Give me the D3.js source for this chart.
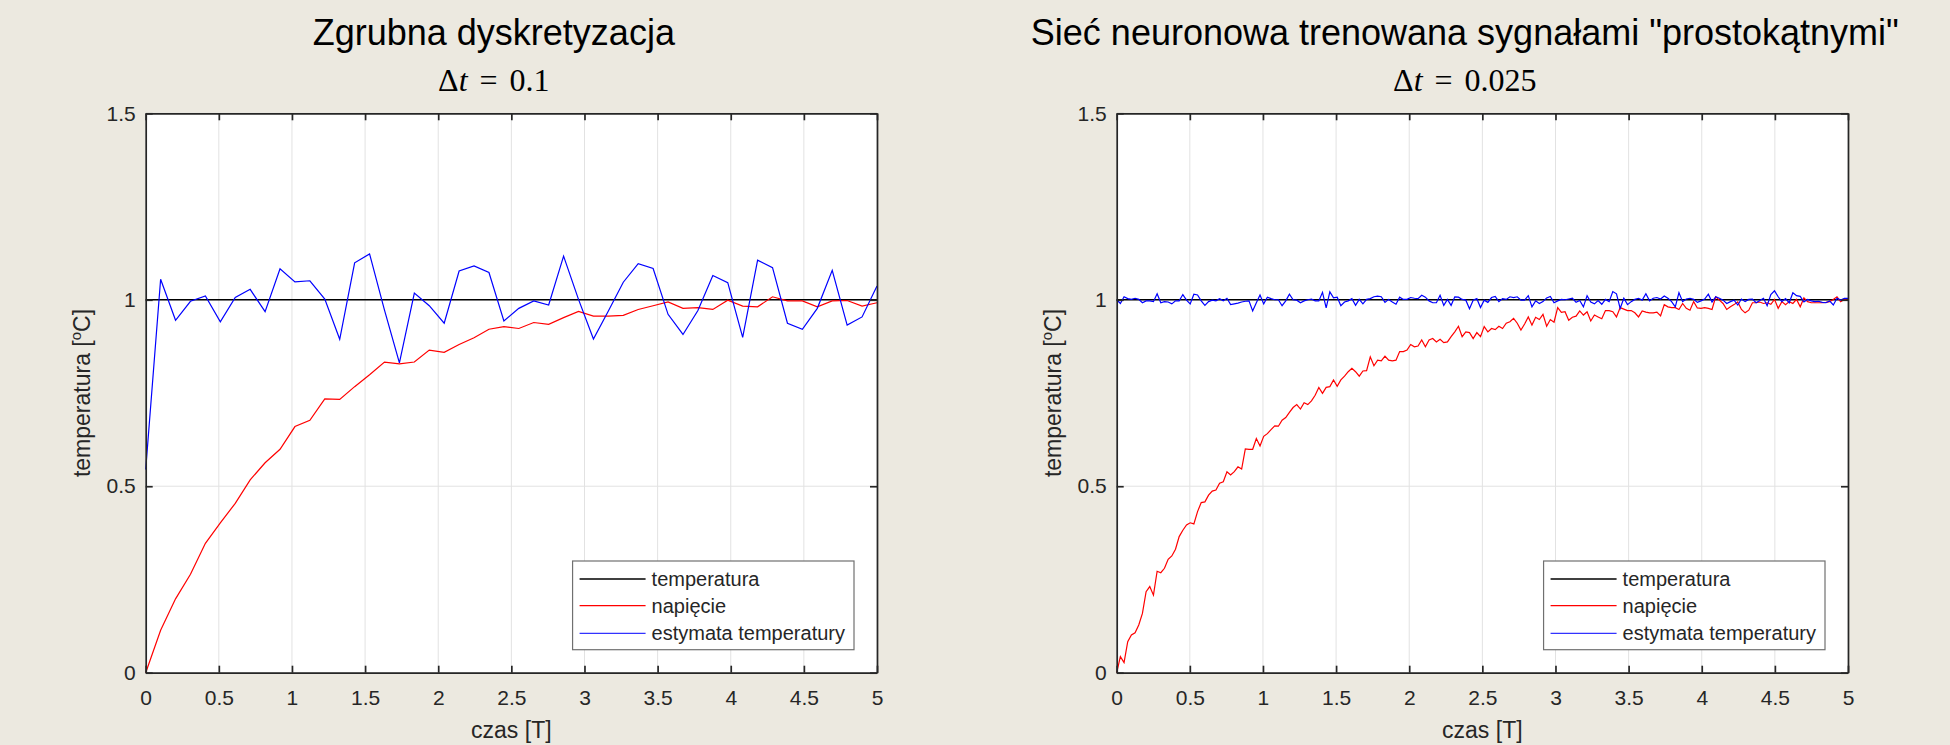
<!DOCTYPE html>
<html>
<head>
<meta charset="utf-8">
<script src="https://cdn.jsdelivr.net/npm/d3@7"></script>
<style>
  body { margin: 0; background: #ECE9E0; }
  svg { display: block; }
</style>
</head>
<body>
<script>
// axis ticks
var timeTicks = [0, 0.5, 1, 1.5, 2, 2.5, 3, 3.5, 4, 4.5, 5];
var tempTicks = [0, 0.5, 1, 1.5];
var legendNames = ["temperatura", "napięcie", "estymata temperatury"];

// temperatura (constant reference)
var temperatureLevel = [1, 1];

// left: coarse sampling (50 samples over 0..5 T)
var coarseVoltage = [0, 0.114, 0.198, 0.264, 0.347, 0.402, 0.454, 0.517, 0.563, 0.599,
  0.660, 0.677, 0.734, 0.733, 0.767, 0.799, 0.833, 0.828, 0.833, 0.865,
  0.859, 0.880, 0.898, 0.921, 0.928, 0.923, 0.939, 0.934, 0.952, 0.969,
  0.956, 0.956, 0.958, 0.974, 0.984, 0.994, 0.977, 0.979, 0.974, 0.999,
  0.983, 0.981, 1.008, 0.997, 0.997, 0.981, 0.997, 0.998, 0.983, 0.992];
var coarseEstimate = [0.545, 1.055, 0.945, 0.996, 1.010, 0.941, 1.006, 1.028, 0.968, 1.083,
  1.048, 1.051, 1.002, 0.894, 1.099, 1.123, 0.972, 0.831, 1.018, 0.984,
  0.937, 1.077, 1.091, 1.073, 0.943, 0.977, 0.997, 0.986, 1.117, 1.001,
  0.895, 0.970, 1.047, 1.097, 1.084, 0.961, 0.907, 0.971, 1.065, 1.046,
  0.899, 1.106, 1.086, 0.937, 0.921, 0.977, 1.079, 0.932, 0.954, 1.037];

// right: fine sampling (200 samples over 0..5 T)
var fineVoltage = [0, 0.043, 0.027, 0.083, 0.101, 0.107, 0.128, 0.159, 0.217, 0.231,
  0.208, 0.272, 0.268, 0.280, 0.304, 0.313, 0.331, 0.365, 0.382, 0.396,
  0.402, 0.399, 0.432, 0.456, 0.458, 0.476, 0.487, 0.490, 0.508, 0.512,
  0.539, 0.530, 0.539, 0.552, 0.546, 0.600, 0.599, 0.599, 0.628, 0.608,
  0.634, 0.641, 0.652, 0.662, 0.661, 0.677, 0.684, 0.698, 0.711, 0.719,
  0.707, 0.724, 0.719, 0.729, 0.744, 0.765, 0.749, 0.765, 0.767, 0.785,
  0.768, 0.785, 0.795, 0.807, 0.816, 0.807, 0.795, 0.809, 0.810, 0.847,
  0.823, 0.838, 0.836, 0.849, 0.838, 0.836, 0.838, 0.861, 0.861, 0.865,
  0.880, 0.874, 0.876, 0.892, 0.874, 0.892, 0.896, 0.887, 0.894, 0.885,
  0.887, 0.901, 0.914, 0.929, 0.901, 0.914, 0.912, 0.896, 0.912, 0.901,
  0.928, 0.914, 0.923, 0.920, 0.929, 0.923, 0.937, 0.941, 0.950, 0.937,
  0.919, 0.935, 0.954, 0.932, 0.953, 0.947, 0.961, 0.929, 0.947, 0.940,
  0.979, 0.966, 0.968, 0.945, 0.953, 0.956, 0.970, 0.959, 0.968, 0.943,
  0.959, 0.954, 0.949, 0.971, 0.971, 0.968, 0.954, 0.979, 0.975, 0.971,
  0.971, 0.965, 0.954, 0.970, 0.967, 0.965, 0.965, 0.967, 0.957, 0.987,
  0.981, 0.979, 0.979, 0.974, 0.990, 0.977, 0.972, 0.995, 0.978, 0.977,
  0.979, 0.977, 0.974, 1.008, 0.999, 0.990, 0.974, 0.981, 0.987, 0.994,
  0.974, 0.965, 0.972, 0.992, 0.992, 0.994, 0.990, 0.992, 0.988, 1.001,
  0.977, 0.995, 0.987, 0.995, 0.990, 1.001, 0.981, 1.005, 0.995, 0.992,
  0.992, 0.992, 0.992, 0.993, 0.995, 1.001, 1.008, 0.995, 1.001, 0.999];
var fineEstimate = [1.000, 0.990, 1.008, 1.003, 1.001, 1.004, 1.001, 0.992, 0.997, 0.997,
  0.995, 1.016, 0.992, 0.995, 0.994, 0.989, 0.997, 0.997, 1.014, 0.999,
  0.989, 1.015, 1.013, 0.997, 0.985, 0.995, 0.999, 0.997, 1.003, 0.997,
  1.004, 0.987, 0.989, 0.991, 0.994, 0.996, 0.997, 0.970, 0.992, 1.013,
  0.989, 1.007, 1.003, 1.000, 1.000, 0.984, 0.997, 1.015, 1.000, 0.999,
  0.992, 0.997, 1.000, 1.002, 0.997, 0.997, 1.020, 0.978, 1.021, 1.005,
  1.007, 0.984, 0.994, 0.997, 1.003, 0.985, 1.001, 0.989, 1.001, 1.003,
  1.008, 1.010, 1.008, 0.993, 1.001, 0.994, 0.988, 1.007, 1.001, 1.001,
  1.006, 1.004, 1.003, 1.012, 1.007, 0.997, 0.992, 0.992, 1.012, 0.985,
  1.001, 0.985, 1.008, 1.007, 1.001, 0.999, 0.976, 0.999, 1.003, 0.979,
  0.999, 0.993, 1.006, 1.009, 0.995, 1.003, 1.001, 1.008, 1.006, 1.008,
  0.999, 0.999, 1.011, 0.981, 0.997, 0.990, 0.995, 1.005, 1.009, 0.992,
  0.997, 1.001, 1.000, 1.002, 1.004, 0.993, 0.998, 0.981, 1.011, 0.994,
  0.989, 0.998, 0.988, 1.001, 0.995, 1.022, 1.016, 0.977, 1.004, 0.987,
  0.995, 1.001, 1.004, 0.999, 1.016, 0.997, 1.004, 1.006, 1.002, 1.010,
  1.004, 0.995, 0.981, 1.019, 0.995, 1.002, 1.004, 1.001, 0.993, 0.997,
  1.002, 1.015, 0.994, 1.008, 1.004, 0.999, 0.990, 0.995, 0.999, 0.986,
  1.002, 0.995, 1.001, 1.002, 0.992, 0.998, 1.004, 0.984, 1.014, 1.024,
  1.008, 0.995, 1.003, 0.992, 1.019, 1.011, 1.009, 0.994, 1.001, 0.997,
  0.995, 0.996, 0.993, 0.992, 0.997, 0.986, 1.004, 0.999, 1.004, 1.004];

var panels = [
  { left: 145.7, right: 877, title: "Zgrubna dyskretyzacja", dt: "0.1",
    voltage: coarseVoltage, estimate: coarseEstimate },
  { left: 1116.7, right: 1848, title: "Sieć neuronowa trenowana sygnałami \"prostokątnymi\"", dt: "0.025",
    voltage: fineVoltage, estimate: fineEstimate }
];

var width = 1950, height = 745;
var plotTop = 113.3, plotBottom = 672.7;
var sans = "'Liberation Sans', Arial, Helvetica, sans-serif";
var serif = "'Liberation Serif', 'Times New Roman', serif";
var ink = "#262626";

var svg = d3.select("body").append("svg")
  .attr("width", width)
  .attr("height", height);

svg.append("rect")
  .attr("width", width)
  .attr("height", height)
  .attr("fill", "#ECE9E0");

panels.forEach(function (p) {
  var g = svg.append("g");
  var x = d3.scaleLinear().domain([0, 5]).range([p.left, p.right]);
  var y = d3.scaleLinear().domain([0, 1.5]).range([plotBottom, plotTop]);
  var cx = (p.left + p.right) / 2;

  g.append("rect")
    .attr("x", p.left).attr("y", plotTop)
    .attr("width", p.right - p.left).attr("height", plotBottom - plotTop)
    .attr("fill", "#fff");

  // grid
  g.selectAll("line.gx").data(timeTicks).join("line")
    .attr("x1", d => x(d)).attr("x2", d => x(d))
    .attr("y1", plotTop).attr("y2", plotBottom)
    .attr("stroke", "#e2e2e2").attr("stroke-width", 1);
  g.selectAll("line.gy").data(tempTicks).join("line")
    .attr("y1", d => y(d)).attr("y2", d => y(d))
    .attr("x1", p.left).attr("x2", p.right)
    .attr("stroke", "#e2e2e2").attr("stroke-width", 1);

  // series
  var n = p.voltage.length;
  var t = d3.scaleLinear().domain([0, n - 1]).range([0, 5]);
  var line = d3.line().x((d, i) => x(t(i))).y(d => y(d));
  var tLine = d3.line().x((d, i) => x(i * 5)).y(d => y(d));

  g.append("path").datum(temperatureLevel)
    .attr("fill", "none").attr("stroke", "#000").attr("stroke-width", 1.3)
    .attr("d", tLine);
  g.append("path").datum(p.voltage)
    .attr("fill", "none").attr("stroke", "#ff0000").attr("stroke-width", 1.2)
    .attr("d", line);
  g.append("path").datum(p.estimate)
    .attr("fill", "none").attr("stroke", "#0000ff").attr("stroke-width", 1.2)
    .attr("d", line);

  // axes (ticks point inward, box on)
  var fmt = d => String(d);
  var axes = [
    g.append("g").attr("transform", `translate(0,${plotBottom})`)
      .call(d3.axisBottom(x).tickValues(timeTicks).tickFormat(fmt).tickSizeInner(-7).tickSizeOuter(0).tickPadding(17)),
    g.append("g").attr("transform", `translate(0,${plotTop})`)
      .call(d3.axisTop(x).tickValues(timeTicks).tickFormat("").tickSizeInner(-7).tickSizeOuter(0)),
    g.append("g").attr("transform", `translate(${p.left},0)`)
      .call(d3.axisLeft(y).tickValues(tempTicks).tickFormat(fmt).tickSizeInner(-7).tickSizeOuter(0).tickPadding(10)),
    g.append("g").attr("transform", `translate(${p.right},0)`)
      .call(d3.axisRight(y).tickValues(tempTicks).tickFormat("").tickSizeInner(-7).tickSizeOuter(0))
  ];
  axes.forEach(function (a) {
    a.select(".domain").attr("stroke", ink).attr("stroke-width", 1.7);
    a.selectAll(".tick line").attr("stroke", ink).attr("stroke-width", 1.7);
    a.selectAll(".tick text")
      .attr("fill", ink)
      .style("font-family", sans)
      .style("font-size", "21px");
  });

  // axis labels
  g.append("text")
    .attr("x", cx).attr("y", plotBottom + 65.5)
    .attr("text-anchor", "middle")
    .style("font-family", sans).style("font-size", "23px")
    .attr("fill", ink)
    .text("czas [T]");

  var yl = g.append("text")
    .attr("transform", `translate(${p.left - 56},${(plotTop + plotBottom) / 2}) rotate(-90)`)
    .attr("text-anchor", "middle")
    .style("font-family", sans).style("font-size", "23px")
    .attr("fill", ink);
  yl.append("tspan").text("temperatura [");
  yl.append("tspan").attr("dy", -9).style("font-size", "15px").text("o");
  yl.append("tspan").attr("dy", 9).text("C]");

  // titles
  g.append("text")
    .attr("x", cx - 17.5).attr("y", 45)
    .attr("text-anchor", "middle")
    .style("font-family", sans).style("font-size", "36px")
    .attr("fill", "#000")
    .text(p.title);

  var dt = g.append("text")
    .attr("x", cx - 17.5).attr("y", 91)
    .attr("text-anchor", "middle")
    .style("font-family", serif).style("font-size", "32px")
    .attr("fill", "#000");
  dt.append("tspan").text("\u0394");
  dt.append("tspan").style("font-style", "italic").text("t");
  dt.append("tspan").attr("dx", 12).text("=");
  dt.append("tspan").attr("dx", 12).text(p.dt);

  // legend
  var lg = g.append("g");
  var box = lg.append("rect")
    .attr("fill", "#fff").attr("stroke", "#707070").attr("stroke-width", 1.2);
  var colors = ["#000", "#ff0000", "#3333ff"];
  var rowY = [18, 44.7, 72.3];
  var texts = lg.selectAll("text").data(legendNames).join("text")
    .attr("x", 79).attr("y", (d, i) => rowY[i] + 7)
    .style("font-family", sans).style("font-size", "20px")
    .attr("fill", ink)
    .text(d => d);
  lg.selectAll("line").data(legendNames).join("line")
    .attr("x1", 7).attr("x2", 73)
    .attr("y1", (d, i) => rowY[i]).attr("y2", (d, i) => rowY[i])
    .attr("stroke", (d, i) => colors[i]).attr("stroke-width", 1.3);
  var tw = d3.max(texts.nodes(), el => el.getComputedTextLength());
  var bw = 79 + tw + 9, bh = 88.7;
  box.attr("width", bw).attr("height", bh);
  lg.attr("transform", `translate(${p.right - 23 - bw},${plotBottom - 23 - bh})`);
});
</script>
</body>
</html>
